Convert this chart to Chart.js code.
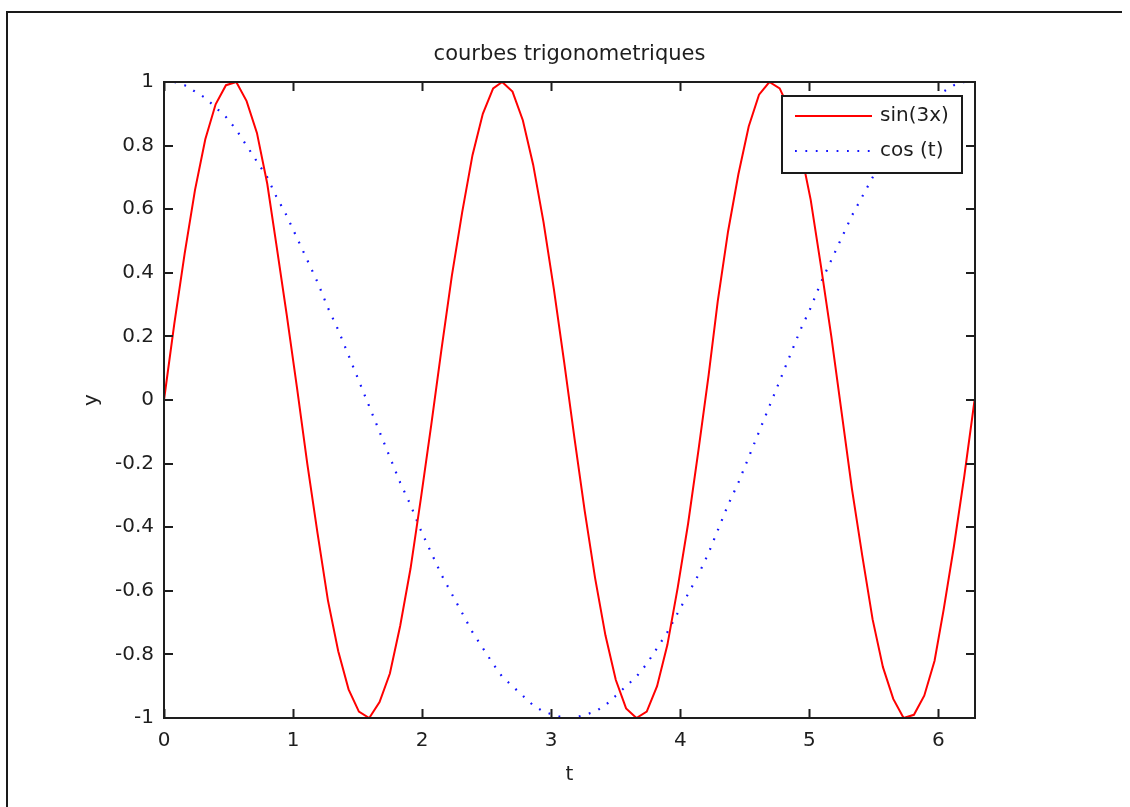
<!DOCTYPE html>
<html>
<head>
<meta charset="utf-8">
<script src="https://cdn.jsdelivr.net/npm/chart.js@4/dist/chart.umd.min.js"></script>
<style>
  html, body { margin: 0; padding: 0; background: #fff; }
  canvas { display: block; }
</style>
</head>
<body>
<canvas id="graf" width="1130" height="807"></canvas>
<script>
// === Donnees ===
const tValues = [0, 0.08, 0.16, 0.24, 0.32, 0.40, 0.48, 0.56, 0.64, 0.72, 0.80, 0.87, 0.95, 1.03, 1.11, 1.19, 1.27, 1.35, 1.43, 1.51,
  1.59, 1.67, 1.75, 1.83, 1.91, 1.99, 2.07, 2.15, 2.23, 2.31, 2.39, 2.47, 2.55, 2.62, 2.70, 2.78, 2.86, 2.94, 3.02, 3.10,
  3.18, 3.26, 3.34, 3.42, 3.50, 3.58, 3.66, 3.74, 3.82, 3.90, 3.98, 4.06, 4.14, 4.22, 4.29, 4.37, 4.45, 4.53, 4.61, 4.69,
  4.77, 4.85, 4.93, 5.01, 5.09, 5.17, 5.25, 5.33, 5.41, 5.49, 5.57, 5.65, 5.73, 5.81, 5.89, 5.97, 6.04, 6.12, 6.20, 6.28];

const sin3x = [0, 0.24, 0.46, 0.66, 0.82, 0.93, 0.99, 1.00, 0.94, 0.84, 0.68, 0.49, 0.27, 0.04, -0.20, -0.42, -0.63, -0.79, -0.91, -0.98,
  -1.00, -0.95, -0.86, -0.71, -0.53, -0.31, -0.08, 0.16, 0.39, 0.59, 0.77, 0.90, 0.98, 1.00, 0.97, 0.88, 0.74, 0.56, 0.35, 0.12,
  -0.12, -0.35, -0.56, -0.74, -0.88, -0.97, -1.00, -0.98, -0.90, -0.77, -0.59, -0.39, -0.16, 0.08, 0.31, 0.53, 0.71, 0.86, 0.96, 1.00,
  0.98, 0.91, 0.79, 0.63, 0.42, 0.20, -0.04, -0.28, -0.49, -0.69, -0.84, -0.94, -1.00, -0.99, -0.93, -0.82, -0.66, -0.46, -0.24, 0];

const cosT = [1.00, 1.00, 0.99, 0.97, 0.95, 0.92, 0.89, 0.85, 0.80, 0.75, 0.70, 0.64, 0.58, 0.51, 0.44, 0.37, 0.29, 0.22, 0.14, 0.06,
  -0.02, -0.10, -0.18, -0.26, -0.33, -0.41, -0.48, -0.55, -0.61, -0.67, -0.73, -0.78, -0.83, -0.87, -0.90, -0.93, -0.96, -0.98, -0.99, -1.00,
  -1.00, -0.99, -0.98, -0.96, -0.93, -0.90, -0.87, -0.83, -0.78, -0.73, -0.67, -0.61, -0.55, -0.48, -0.41, -0.33, -0.26, -0.18, -0.10, -0.02,
  0.06, 0.14, 0.22, 0.29, 0.37, 0.44, 0.51, 0.58, 0.64, 0.70, 0.75, 0.80, 0.85, 0.89, 0.92, 0.95, 0.97, 0.99, 1.00, 1.00];

const xTicks = [0, 1, 2, 3, 4, 5, 6];
const yTicks = [-1, -0.8, -0.6, -0.4, -0.2, 0, 0.2, 0.4, 0.6, 0.8, 1];
const xMin = 0, xMax = 6.2832, yMin = -1, yMax = 1;

const labels = ['sin(3x)', 'cos (t)'];
const titre = 'courbes trigonometriques';

const police = 'DejaVu Sans, Arial, sans-serif';
const encre = '#1e1e1e';

// === Cadre, titre, graduations internes et legende facon MATLAB ===
const cadreMatlab = {
    id: 'cadreMatlab',
    beforeDraw(chart) {
        const c = chart.ctx;
        c.save();
        c.strokeStyle = '#1a1a1a';
        c.lineWidth = 2;
        c.beginPath();
        c.moveTo(7, 808);
        c.lineTo(7, 12);
        c.lineTo(1122, 12);
        c.stroke();

        // titre centre sur la zone de trace
        const a = chart.chartArea;
        c.fillStyle = encre;
        c.font = '21px ' + police;
        c.textAlign = 'center';
        c.textBaseline = 'middle';
        c.fillText(titre, (a.left + a.right) / 2, 55);
        c.restore();
    },
    afterDatasetsDraw(chart) {
        const c = chart.ctx;
        const a = chart.chartArea;
        const sx = chart.scales.x, sy = chart.scales.y;
        const tl = 9;
        c.save();
        c.strokeStyle = encre;
        c.lineWidth = 2;
        c.strokeRect(a.left, a.top, a.right - a.left, a.bottom - a.top);
        c.beginPath();
        xTicks.forEach(v => {
            const px = Math.round(sx.getPixelForValue(v)) + 0.5;
            c.moveTo(px, a.bottom); c.lineTo(px, a.bottom - tl);
            c.moveTo(px, a.top); c.lineTo(px, a.top + tl);
        });
        yTicks.forEach(v => {
            const py = Math.round(sy.getPixelForValue(v));
            c.moveTo(a.left, py); c.lineTo(a.left + tl, py);
            c.moveTo(a.right, py); c.lineTo(a.right - tl, py);
        });
        c.stroke();

        // legende
        const lx = 782, ly = 96, lw = 180, lh = 77;
        c.fillStyle = '#fff';
        c.fillRect(lx, ly, lw, lh);
        c.strokeStyle = '#1a1a1a';
        c.strokeRect(lx, ly, lw, lh);
        c.font = '20px ' + police;
        c.textBaseline = 'middle';
        c.textAlign = 'left';
        chart.data.datasets.forEach((ds, i) => {
            const y = ly + 20 + i * 35;
            c.save();
            c.strokeStyle = ds.borderColor;
            c.lineWidth = ds.borderWidth;
            c.setLineDash(ds.borderDash || []);
            c.beginPath();
            c.moveTo(lx + 13, y);
            c.lineTo(lx + 90, y);
            c.stroke();
            c.restore();
            c.fillStyle = encre;
            c.fillText(ds.label, lx + 98, y);
        });
        c.restore();
    }
};

const ctx = document.getElementById('graf').getContext('2d');

new Chart(ctx, {
    type: 'line',
    data: {
        datasets: [
            {
                label: labels[0],
                data: tValues.map((t, i) => ({ x: t, y: sin3x[i] })),
                borderColor: '#ff0000',
                borderWidth: 2,
                pointRadius: 0,
                tension: 0
            },
            {
                label: labels[1],
                data: tValues.map((t, i) => ({ x: t, y: cosT[i] })),
                borderColor: '#1414ff',
                borderWidth: 2.2,
                borderDash: [1.8, 8.6],
                pointRadius: 0,
                tension: 0
            }
        ]
    },
    options: {
        responsive: false,
        animation: false,
        layout: { padding: { left: 0, right: 155, top: 82, bottom: 0 } },
        plugins: {
            legend: { display: false },
            tooltip: { enabled: false },
            title: { display: false }
        },
        scales: {
            x: {
                type: 'linear',
                min: xMin,
                max: xMax,
                grid: { display: false, drawTicks: false },
                border: { display: false },
                afterBuildTicks: s => { s.ticks = xTicks.map(v => ({ value: v })); },
                afterFit: s => { s.height = 89; },
                ticks: {
                    color: encre,
                    padding: 11,
                    maxRotation: 0,
                    font: { family: police, size: 20 },
                    callback: v => String(v)
                },
                title: {
                    display: true,
                    text: 't',
                    color: encre,
                    font: { family: police, size: 20, lineHeight: 1.2 },
                    padding: { top: 0, bottom: 20 }
                }
            },
            y: {
                type: 'linear',
                min: yMin,
                max: yMax,
                grid: { display: false, drawTicks: false },
                border: { display: false },
                afterBuildTicks: s => { s.ticks = yTicks.map(v => ({ value: v })); },
                afterFit: s => { s.width = 164; },
                ticks: {
                    color: encre,
                    padding: 10,
                    font: { family: police, size: 20 },
                    callback: v => String(Math.round(v * 10) / 10)
                },
                title: {
                    display: true,
                    text: 'y',
                    color: encre,
                    font: { family: police, size: 20, lineHeight: 1.2 },
                    padding: { top: 80, bottom: 0 }
                }
            }
        }
    },
    plugins: [cadreMatlab]
});
</script>
</body>
</html>
